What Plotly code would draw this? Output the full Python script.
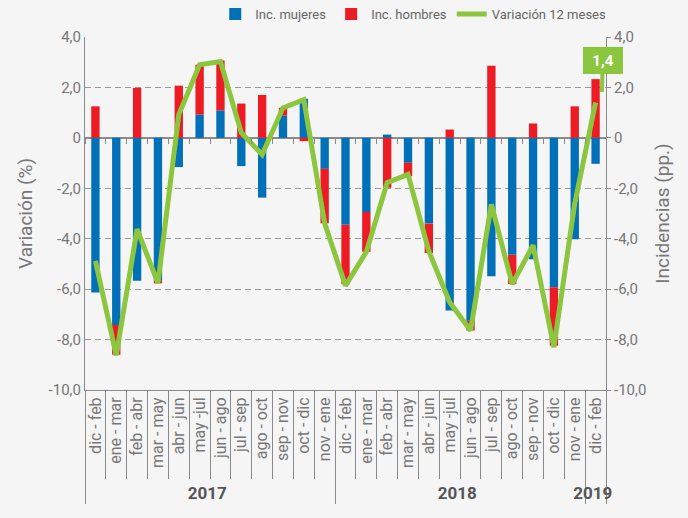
import plotly.graph_objects as go

years = ["2017"] * 12 + ["2018"] * 12 + ["2019"]
periods = ["dic - feb", "ene - mar", "feb - abr", "mar - may", "abr - jun", "may -jul",
           "jun - ago", "jul - sep", "ago - oct", "sep - nov", "oct - dic", "nov - ene"] * 2 + ["dic - feb"]

inc_mujeres = [-6.13, -7.42, -5.67, -5.67, -1.16, 0.92, 1.09, -1.12, -2.37, 0.88, 1.55, -1.23,
               -3.45, -2.94, 0.13, -0.99, -3.40, -6.85, -7.25, -5.49, -4.64, -4.81, -5.93, -4.02,
               -1.03]
inc_hombres = [1.25, -1.18, 1.98, -0.10, 2.07, 1.98, 1.98, 1.36, 1.70, 0.31, -0.13, -2.16,
               -2.35, -1.58, -1.98, -0.53, -1.17, 0.33, -0.39, 2.86, -1.16, 0.57, -2.31, 1.25,
               2.33]
variacion = [-4.88, -8.63, -3.62, -5.76, 0.92, 2.90, 3.03, 0.20, -0.66, 1.19, 1.51, -3.39,
             -5.86, -4.52, -1.78, -1.45, -4.50, -6.52, -7.64, -2.64, -5.80, -4.26, -8.30, -2.60,
             1.40]

y_tickvals = [-10, -8, -6, -4, -2, 0, 2, 4]
y_ticktext = ["-10,0", "-8,0", "-6,0", "-4,0", "-2,0", "0", "2,0", "4,0"]
last_label = "1,4"

BLUE = "#0070b9"
RED = "#ed1c24"
GREEN = "#8cc63f"
GREY = "#8a8a8a"
TXT = "#777777"
BG = "#f5f5f5"
FONT = "Roboto"

x_multi = [["<span style='font-size:17px;color:#555555'><b>" + y + "</b></span>" for y in years],
           periods]
ymin, ymax = y_tickvals[0], y_tickvals[-1]
n = len(periods)

fig = go.Figure()
fig.add_trace(go.Bar(x=x_multi, y=inc_mujeres, name="Inc. mujeres", marker_color=BLUE,
                     marker_line_width=0))
fig.add_trace(go.Bar(x=x_multi, y=inc_hombres, name="Inc. hombres", marker_color=RED,
                     marker_line_width=0))
fig.add_trace(go.Scatter(x=x_multi, y=variacion, name="Variación 12 meses", mode="lines",
                         line=dict(color=GREEN, width=5), yaxis="y2"))
# helper invisible traces for decorative tick axes
fig.add_trace(go.Scatter(x=[0], y=[0], xaxis="x2", mode="markers", marker=dict(opacity=0),
                         showlegend=False, hoverinfo="skip"))
fig.add_trace(go.Scatter(x=[0], y=[0], xaxis="x3", mode="markers", marker=dict(opacity=0),
                         showlegend=False, hoverinfo="skip"))

fig.update_layout(
    width=688, height=518,
    margin=dict(l=85, r=82, t=37, b=128, autoexpand=False),
    paper_bgcolor=BG, plot_bgcolor=BG,
    barmode="relative", bargap=0.6,
    font=dict(family=FONT, color=TXT, size=15),
    showlegend=True,
    legend=dict(orientation="h", x=0.63, xanchor="center", y=1.065, yanchor="middle",
                font=dict(size=13, color="#666666"), bgcolor="rgba(0,0,0,0)",
                traceorder="normal"),
    xaxis=dict(type="multicategory", tickangle=-90, tickfont=dict(size=16, color=TXT),
               showline=True, linecolor=GREY, linewidth=1, showgrid=False, ticks="",
               showdividers=True, dividercolor=GREY, dividerwidth=1, automargin=False),
    xaxis2=dict(overlaying="x", anchor="free", position=(0 - ymin) / (ymax - ymin),
                range=[-0.5, n - 0.5], tickmode="linear", tick0=-0.5, dtick=1,
                ticks="outside", ticklen=5, tickcolor=GREY, showticklabels=False,
                showline=False, showgrid=False, zeroline=False, automargin=False),
    xaxis3=dict(overlaying="x", anchor="y", side="bottom",
                range=[-0.5, n - 0.5], tickmode="linear", tick0=-0.5, dtick=1,
                ticks="outside", ticklen=88, tickcolor=GREY, showticklabels=False,
                showline=False, showgrid=False, zeroline=False, automargin=False),
    yaxis=dict(range=[ymin, ymax], tickvals=y_tickvals, ticktext=y_ticktext,
               showgrid=True, gridcolor="#9a9a9a", griddash="6px,4px", gridwidth=1,
               zeroline=True, zerolinecolor=GREY, zerolinewidth=2,
               showline=True, linecolor=GREY, linewidth=1, ticks="",
               tickfont=dict(size=15, color=TXT), automargin=False,
               title=dict(text="Variación (%)", font=dict(size=19, color=TXT), standoff=10)),
    yaxis2=dict(overlaying="y", side="right", range=[ymin, ymax], tickvals=y_tickvals,
                ticktext=y_ticktext, showgrid=False, zeroline=False,
                showline=True, linecolor=GREY, linewidth=1, ticks="outside", ticklen=4,
                tickcolor=GREY, tickfont=dict(size=15, color=TXT), automargin=False,
                title=dict(text="Incidencias (pp.)", font=dict(size=19, color=TXT), standoff=10)),
)

fig.add_annotation(xref="paper", yref="paper", x=0.992, y=(390 - 92) / 353,
                   text="<b>" + last_label + "</b>", showarrow=True, arrowhead=0,
                   arrowwidth=4, arrowcolor=GREEN, ax=1, ay=-32,
                   bgcolor=GREEN, bordercolor=GREEN, borderwidth=1, borderpad=3,
                   width=32, height=19, font=dict(size=15, color="white", family=FONT))

fig.write_html("out.html", config={"displayModeBar": False},
               post_script="document.body.style.margin='0';document.body.style.background='#f5f5f5';")
